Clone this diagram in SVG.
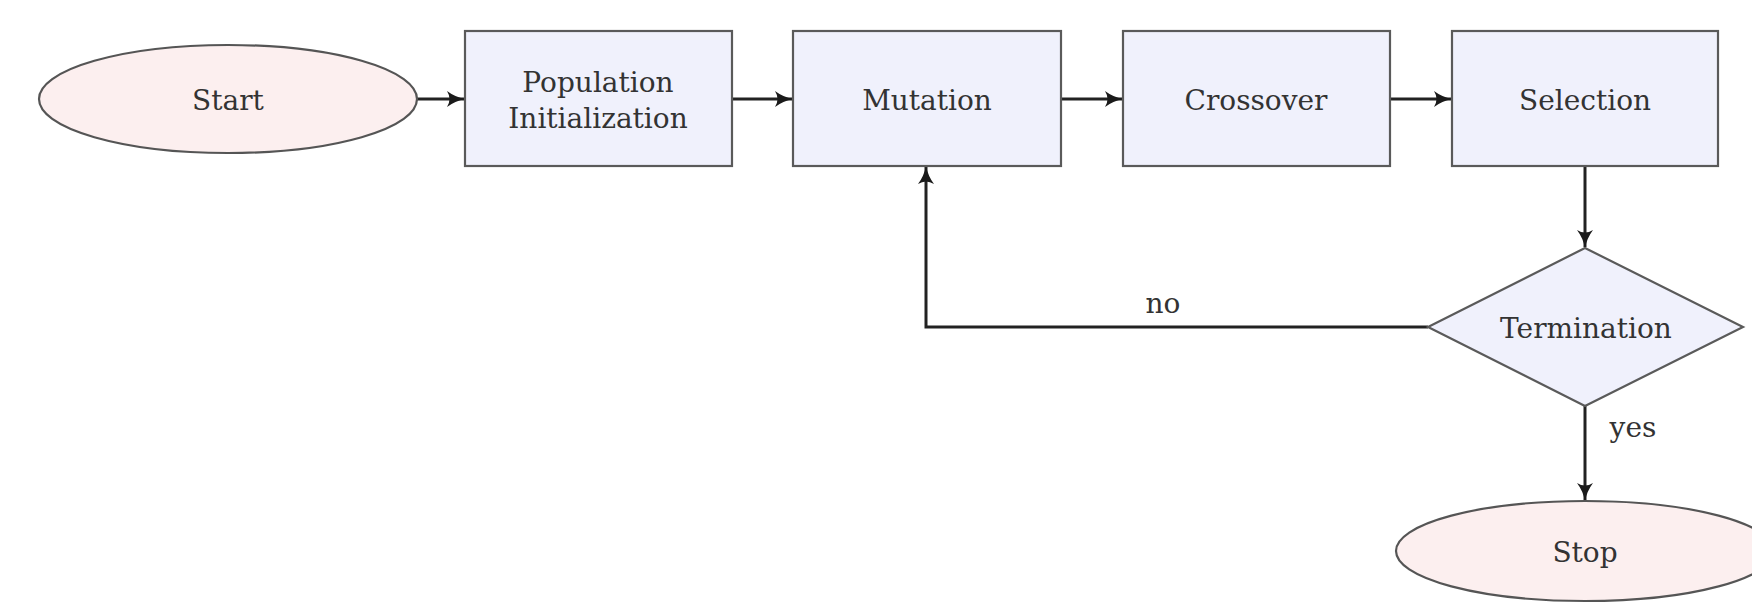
<svg xmlns="http://www.w3.org/2000/svg" width="1752" height="604" viewBox="0 0 1752 604">
<defs>
<style>
.box{fill:#f0f1fc;stroke:#5a5a5a;stroke-width:2.2}
.term{fill:#fcefef;stroke:#555;stroke-width:2.2}
.lbl{font-family:"DejaVu Serif","Liberation Serif",serif;font-size:28px;fill:#333;text-anchor:middle}
.edge{fill:none;stroke:#222;stroke-width:3}
</style>
<marker id="arr" viewBox="0 0 18 16" refX="17" refY="8" markerWidth="18" markerHeight="16" markerUnits="userSpaceOnUse" orient="auto">
<path d="M0,0 Q8,6 18,8 Q8,10 0,16 Q5,8 0,0 Z" fill="#1a1a1a"/>
</marker>
</defs>
<rect width="1752" height="604" fill="#ffffff"/>
<g id="connectors">
<line class="edge" x1="417" y1="99" x2="464" y2="99" marker-end="url(#arr)"/>
<line class="edge" x1="732" y1="99" x2="792" y2="99" marker-end="url(#arr)"/>
<line class="edge" x1="1061" y1="99" x2="1122" y2="99" marker-end="url(#arr)"/>
<line class="edge" x1="1390" y1="99" x2="1451" y2="99" marker-end="url(#arr)"/>
<line class="edge" x1="1585" y1="166" x2="1585" y2="247" marker-end="url(#arr)"/>
<polyline class="edge" points="1428,327 926,327 926,167" marker-end="url(#arr)"/>
<line class="edge" x1="1585" y1="406" x2="1585" y2="500" marker-end="url(#arr)"/>
<text class="lbl" x="1163" y="313">no</text>
<text class="lbl" x="1633" y="437">yes</text>
</g>
<g id="start">
<ellipse class="term" cx="228" cy="99" rx="189" ry="54"/>
<text class="lbl" x="228" y="110">Start</text>
</g>
<g id="popinit">
<rect class="box" x="465" y="31" width="267" height="135"/>
<text class="lbl" x="598" y="92">Population</text>
<text class="lbl" x="598" y="128">Initialization</text>
</g>
<g id="mutation">
<rect class="box" x="793" y="31" width="268" height="135"/>
<text class="lbl" x="927" y="110">Mutation</text>
</g>
<g id="crossover">
<rect class="box" x="1123" y="31" width="267" height="135"/>
<text class="lbl" x="1256" y="110">Crossover</text>
</g>
<g id="selection">
<rect class="box" x="1452" y="31" width="266" height="135"/>
<text class="lbl" x="1585" y="110">Selection</text>
</g>
<g id="termination">
<polygon class="box" points="1585,248 1743,327 1585,406 1428,327"/>
<text class="lbl" x="1586" y="338">Termination</text>
</g>
<g id="stop">
<ellipse class="term" cx="1585" cy="551" rx="189" ry="50"/>
<text class="lbl" x="1585" y="562">Stop</text>
</g>
</svg>
